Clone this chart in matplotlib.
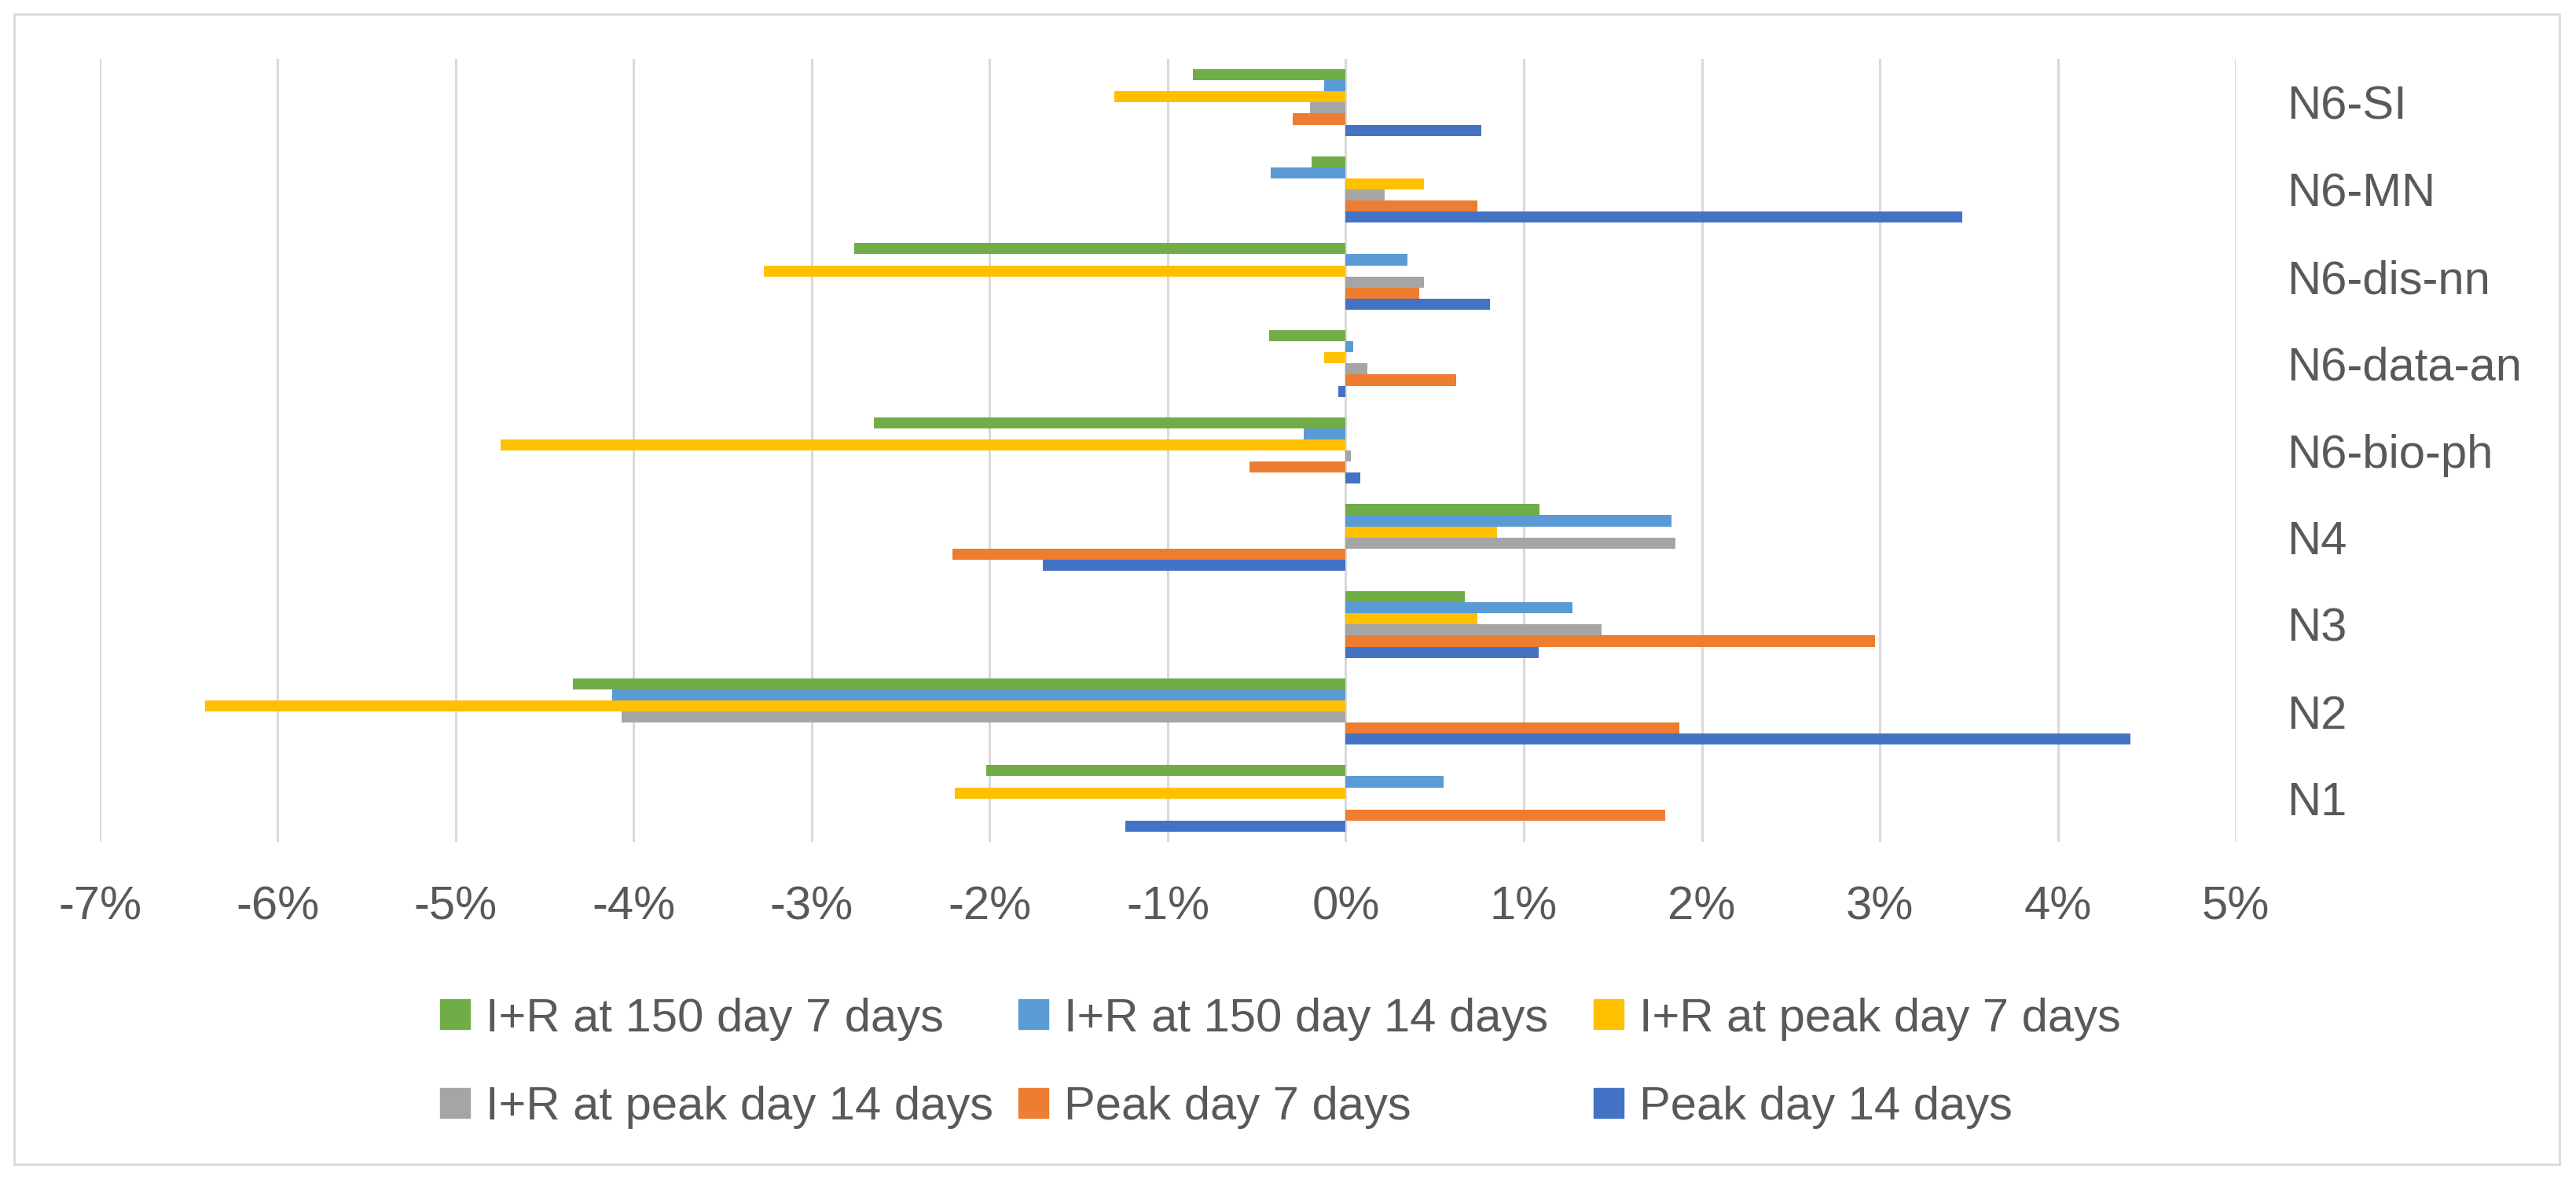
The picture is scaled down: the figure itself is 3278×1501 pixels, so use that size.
import numpy as np
from matplotlib import pyplot as plt
from matplotlib.patches import Rectangle

# categories, top to bottom as in the chart
cats = ["N6-SI", "N6-MN", "N6-dis-nn", "N6-data-an", "N6-bio-ph", "N4", "N3", "N2", "N1"]

# values in percent, same order as cats
ir150_7 = [-0.86, -0.19, -2.76, -0.43, -2.65, 1.09, 0.67, -4.34, -2.02]
ir150_14 = [-0.12, -0.42, 0.345, 0.04, -0.235, 1.83, 1.275, -4.12, 0.55]
irpeak_7 = [-1.30, 0.44, -3.27, -0.12, -4.75, 0.85, 0.74, -6.41, -2.195]
irpeak_14 = [-0.20, 0.22, 0.44, 0.12, 0.03, 1.85, 1.435, -4.07, 0.0]
peak_7 = [-0.30, 0.74, 0.415, 0.62, -0.54, -2.21, 2.975, 1.875, 1.795]
peak_14 = [0.76, 3.465, 0.81, -0.04, 0.08, -1.70, 1.085, 4.41, -1.24]

labels = ["I+R at 150 day 7 days", "I+R at 150 day 14 days", "I+R at peak day 7 days",
          "I+R at peak day 14 days", "Peak day 7 days", "Peak day 14 days"]
series = [ir150_7, ir150_14, irpeak_7, irpeak_14, peak_7, peak_14]
colors = ["#70AD47", "#5B9BD5", "#FFC000", "#A5A5A5", "#ED7D31", "#4472C4"]

xticks = np.arange(-7, 6)

plt.rcParams['font.family'] = ['Liberation Sans', 'DejaVu Sans']
txt = "#595959"
fs = 43

W, H = 3278, 1501
fig = plt.figure(figsize=(W / 100, H / 100), dpi=100)
ax = fig.add_axes([127 / W, 1 - 1071 / H, (2845 - 127) / W, (1071 - 75) / H])

n = len(cats)
pos = np.arange(n)[::-1]  # N6-SI on top
h = 1 / 7.82
for i, (vals, c) in enumerate(zip(series, colors)):
    # first series at top of each group
    off = (2.5 - i) * h
    ax.barh(pos + off, vals, height=h, color=c, zorder=3)

ax.set_xlim(-7, 5)
ax.set_ylim(-0.5, n - 0.5)
ax.set_xticks(xticks)
ax.set_xticklabels([f"{t}%" for t in xticks])
ax.set_yticks(pos)
ax.set_yticklabels(cats)
ax.yaxis.tick_right()
ax.tick_params(axis='x', length=0, pad=40, labelsize=fs, labelcolor=txt)
ax.tick_params(axis='y', length=0, pad=47, labelsize=fs, labelcolor=txt)
ax.grid(axis='x', color="#D9D9D9", linewidth=2.2, zorder=0)
for s in ax.spines.values():
    s.set_visible(False)

# legend, laid out like the Excel one
leg_x = [560, 1296, 2028]
leg_y = [1290, 1403]
sq = 38
for i, (lab, c) in enumerate(zip(labels, colors)):
    x0 = leg_x[i % 3]
    y0 = leg_y[i // 3]
    fig.add_artist(Rectangle((x0 / W, 1 - (y0 + sq / 2) / H), sq / W, sq / H,
                             transform=fig.transFigure, color=c))
    fig.text((x0 + sq + 20) / W, 1 - y0 / H, lab, fontsize=fs, color=txt,
             ha='left', va='center_baseline')

# chart border
fig.add_artist(Rectangle((18 / W, 1 - 1481 / H), (3257 - 18) / W, (1481 - 18) / H,
                         transform=fig.transFigure, fill=False,
                         edgecolor="#D9D9D9", linewidth=2))

fig.savefig("out.png", dpi=100)
